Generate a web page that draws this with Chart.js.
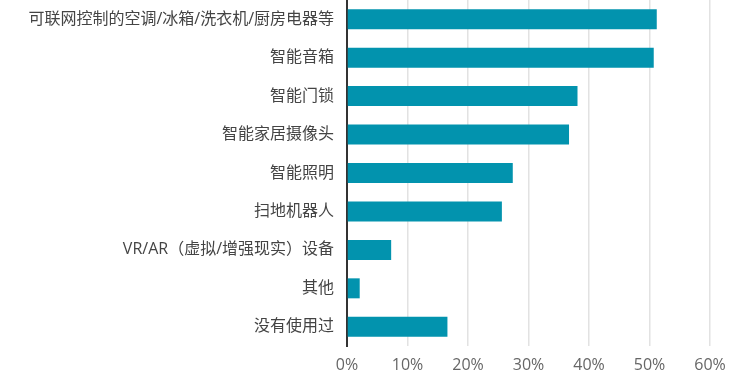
<!DOCTYPE html>
<html>
<head>
<meta charset="utf-8">
<script src="https://cdn.jsdelivr.net/npm/chart.js@4/dist/chart.umd.min.js"></script>
<style>
html,body{margin:0;padding:0;background:#fff;}
#wrap{width:740px;height:380px;position:relative;}
</style>
</head>
<body>
<div id="wrap"><canvas id="c" width="740" height="380"></canvas></div>
<script>
const categories = [
  "可联网控制的空调/冰箱/洗衣机/厨房电器等",
  "智能音箱",
  "智能门锁",
  "智能家居摄像头",
  "智能照明",
  "扫地机器人",
  "VR/AR（虚拟/增强现实）设备",
  "其他",
  "没有使用过"
];
const values = [51.2, 50.7, 38.1, 36.7, 27.4, 25.6, 7.3, 2.1, 16.6];
const xTickValues = [0, 10, 20, 30, 40, 50, 60];

const FONT = '"Open Sans", "Noto Sans CJK SC", sans-serif';

new Chart(document.getElementById('c'), {
  type: 'bar',
  data: {
    labels: categories,
    datasets: [{
      data: values,
      backgroundColor: '#0293ae',
      borderWidth: 0,
      barPercentage: 0.52,
      categoryPercentage: 1.0
    }]
  },
  options: {
    indexAxis: 'y',
    responsive: false,
    animation: false,
    layout: { padding: { left: 0, right: 30, top: 0, bottom: 0 } },
    plugins: { legend: { display: false }, tooltip: { enabled: false } },
    scales: {
      x: {
        min: 0, max: 60,
        afterBuildTicks: (s) => { s.ticks = xTickValues.map(v => ({ value: v })); },
        afterFit: (s) => { s.height = 34; },
        grid: { color: '#e2e2e2', lineWidth: 1.5, drawTicks: false },
        border: { display: false },
        ticks: {
          padding: 10,
          color: '#666',
          font: { family: FONT, size: 16 },
          callback: (v) => v + '%'
        }
      },
      y: {
        afterFit: (s) => { s.width = 347; s.paddingTop = 0; s.paddingBottom = 0; },
        grid: { display: false, drawTicks: false },
        border: { display: true, color: '#333', width: 2 },
        ticks: {
          padding: 13,
          color: '#444',
          font: { family: FONT, size: 16 }
        }
      }
    }
  }
});
</script>
</body>
</html>
